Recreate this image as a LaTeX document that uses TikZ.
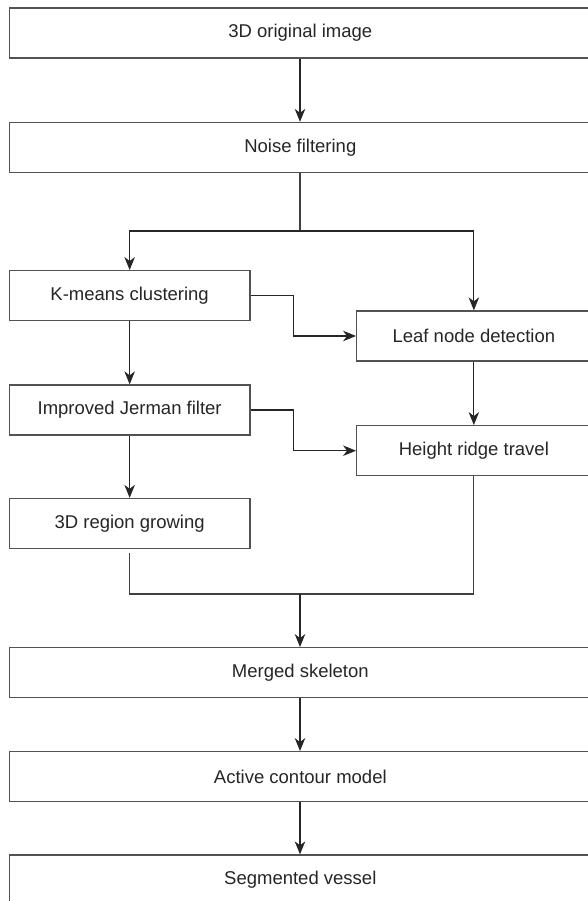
\documentclass[tikz,border=0pt]{standalone}
\usepackage{fontspec}
\setmainfont{Liberation Sans}
\usetikzlibrary{arrows.meta}
\tikzset{
  box/.style={draw=black!68, line width=1.3pt, fill=white, rectangle, minimum height=50pt, inner sep=0pt,
    font=\fontsize{18.5}{20}\selectfont, text=black!85},
  mainbox/.style={box, minimum width=582pt},
  leftbox/.style={box, minimum width=240.7pt},
  rightbox/.style={box, minimum width=234.3pt},
  arr/.style={draw=black!85, line width=1.1pt, -{Stealth[length=13pt,width=10.5pt,inset=4pt]}},
  ln/.style={draw=black!75, line width=1.1pt}
}
\begin{document}
\begin{tikzpicture}[x=1pt,y=-1pt]
\useasboundingbox[fill=white] (0,0) rectangle (587,901);
\node[mainbox] (orig) at (300.3,33) {3D original image};
\node[mainbox] (noise) at (300.3,147.5) {Noise filtering};
\node[leftbox] (km) at (129.65,295.7) {K-means clustering};
\node[rightbox] (leaf) at (473.85,336) {Leaf node detection};
\node[leftbox] (jer) at (129.65,410) {Improved Jerman filter};
\node[rightbox] (hr) at (473.85,450.7) {Height ridge travel};
\node[leftbox] (rg) at (129.65,523.5) {3D region growing};
\node[mainbox] (merged) at (300.3,672.7) {Merged skeleton};
\node[mainbox] (active) at (300.3,776.7) {Active contour model};
\node[mainbox] (seg) at (300.3,880) {Segmented vessel};
\coordinate (split) at (300,231);
\coordinate (join) at (300,594);
% top
\draw[arr] (orig.south -| 300,0) -- (noise.north -| 300,0);
\draw[ln] (noise.south -| 300,0) -- (split);
\draw[arr] (split) -| (km.north);
\draw[arr] (split) -| (leaf.north);
% crossings
\draw[arr] (km.east) -- ++(43,0) |- (leaf.west);
\draw[arr] (jer.east) -- ++(43,0) |- (hr.west);
% verticals
\draw[arr] (km.south) -- (jer.north);
\draw[arr] (jer.south) -- (rg.north);
\draw[arr] (leaf.south) -- (hr.north);
% join
\draw[ln] ([yshift=-4pt]rg.south) -- (rg.south |- join) -- (hr.south |- join) -- (hr.south);
\draw[arr] (join) -- (merged.north -| join);
\draw[arr] (merged.south -| 300,0) -- (active.north -| 300,0);
\draw[arr] (active.south -| 300,0) -- (seg.north -| 300,0);
\end{tikzpicture}
\end{document}
